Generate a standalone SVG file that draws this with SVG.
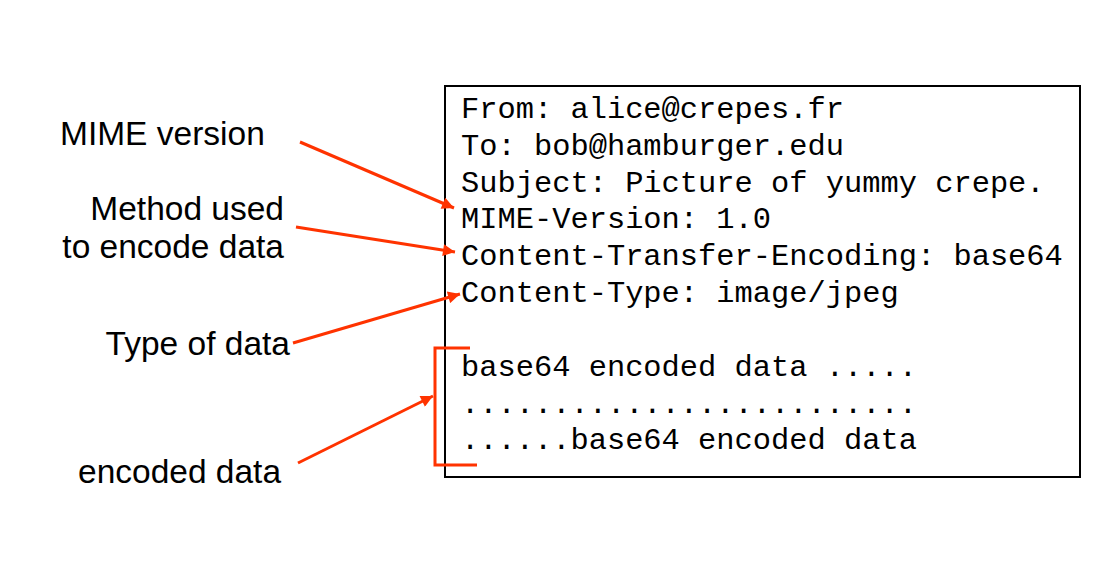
<svg xmlns="http://www.w3.org/2000/svg" width="1108" height="573" viewBox="0 0 1108 573">
<defs>
<style>
.lbl{font-family:"Liberation Sans",Arial,sans-serif;font-size:33.5px;fill:#000}
.mono{font-family:"Liberation Mono","Courier New",monospace;font-size:30.4px;fill:#000}
.red{stroke:#ff3300;stroke-width:3;fill:none}
</style>
<marker id="ah" viewBox="0 0 10 10" refX="10" refY="5" markerWidth="14" markerHeight="12" markerUnits="userSpaceOnUse" orient="auto">
<path d="M0,0 L10,5 L0,10 z" fill="#ff3300"/>
</marker>
</defs>
<rect width="1108" height="573" fill="#fff"/>
<g id="message">
<rect x="445" y="86" width="635" height="391" fill="#fff" stroke="#000" stroke-width="2"/>
<text class="mono" x="461" y="118">From: alice@crepes.fr</text>
<text class="mono" x="461" y="155">To: bob@hamburger.edu</text>
<text class="mono" x="461" y="192">Subject: Picture of yummy crepe.</text>
<text class="mono" x="461" y="228">MIME-Version: 1.0</text>
<text class="mono" x="461" y="265">Content-Transfer-Encoding: base64</text>
<text class="mono" x="461" y="302">Content-Type: image/jpeg</text>
<text class="mono" x="461" y="376">base64 encoded data .....</text>
<text class="mono" x="461" y="413">.........................</text>
<text class="mono" x="461" y="449">......base64 encoded data</text>
</g>
<g id="label-mime"><text class="lbl" x="60" y="145">MIME version</text></g>
<g id="label-method"><text class="lbl" x="284" y="220" text-anchor="end">Method used</text><text class="lbl" x="284" y="258" text-anchor="end">to encode data</text></g>
<g id="label-type"><text class="lbl" x="290" y="355" text-anchor="end">Type of data</text></g>
<g id="label-encoded"><text class="lbl" x="78" y="483">encoded data</text></g>
<g id="connectors">
<line class="red" x1="300" y1="142" x2="454" y2="208" marker-end="url(#ah)"/>
<line class="red" x1="296" y1="227" x2="455" y2="252" marker-end="url(#ah)"/>
<line class="red" x1="293" y1="343" x2="460" y2="294" marker-end="url(#ah)"/>
<line class="red" x1="298" y1="463" x2="433" y2="396" marker-end="url(#ah)"/>
<polyline class="red" points="470,348 435,348 435,465 477,465"/>
</g>
</svg>
